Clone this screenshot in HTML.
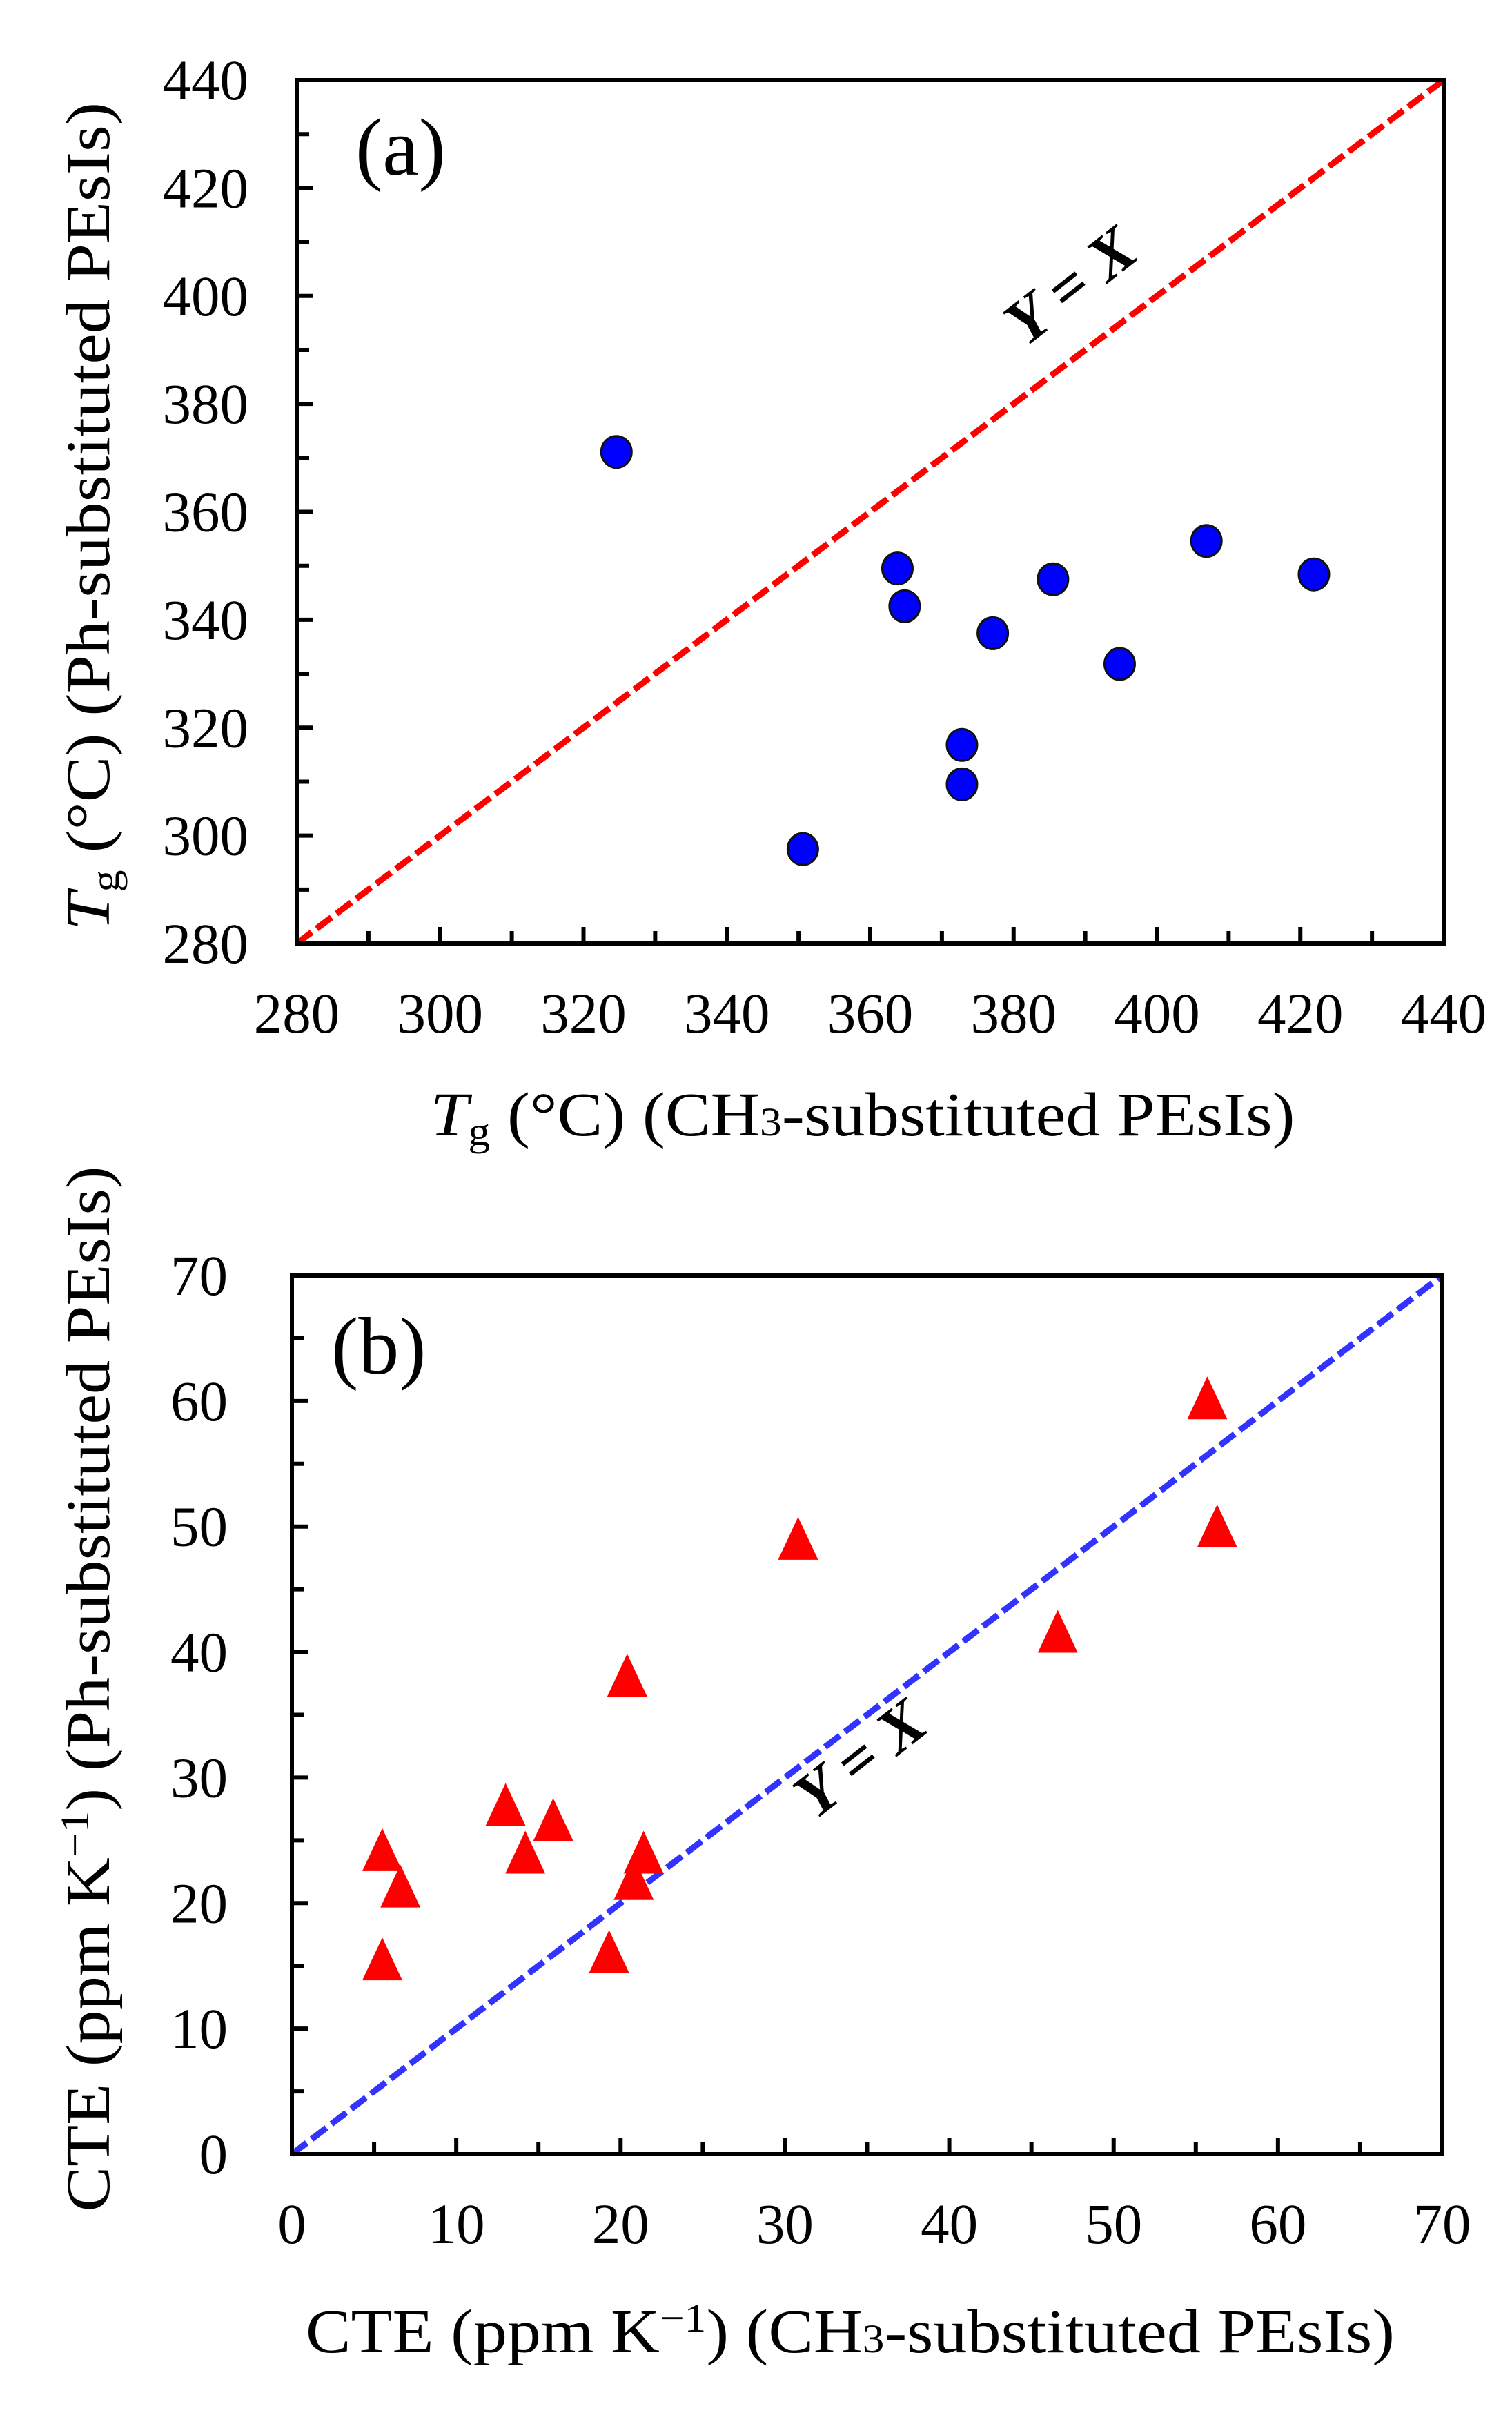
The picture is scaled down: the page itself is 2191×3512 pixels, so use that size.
<!DOCTYPE html>
<html><head><meta charset="utf-8"><style>
html,body{margin:0;padding:0;background:#fff;}
svg{display:block;}
text{font-family:"Liberation Serif",serif;fill:#000;}
</style></head><body>
<svg id="fig" width="2191" height="3512" viewBox="0 0 2191 3512" xmlns="http://www.w3.org/2000/svg">
<rect width="2191" height="3512" fill="#fff"/>
<g id="pa"></g>
<g id="pb"></g>
<text x="515" y="253" font-size="118">(a)</text>
<text x="480" y="1990" font-size="118">(b)</text>
<text transform="translate(1570,438) rotate(-38)" font-size="92" font-weight="bold" font-style="italic" text-anchor="middle">Y = X</text>
<text transform="translate(1265,2572) rotate(-38)" font-size="92" font-weight="bold" font-style="italic" text-anchor="middle">Y = X</text>
<text x="1250" y="1645" font-size="90" text-anchor="middle" textLength="1253" lengthAdjust="spacingAndGlyphs"><tspan font-style="italic">T</tspan><tspan font-size="58" dy="14">g</tspan><tspan dy="-14"> (°C) (CH</tspan><tspan font-size="58">3</tspan><tspan>-substituted PEsIs)</tspan></text>
<text transform="translate(158,748) rotate(-90)" font-size="90" text-anchor="middle" textLength="1200" lengthAdjust="spacingAndGlyphs"><tspan font-style="italic">T</tspan><tspan font-size="58" dy="14">g</tspan><tspan dy="-14"> (°C) (Ph-substituted PEsIs)</tspan></text>
<text x="1232" y="3408" font-size="90" text-anchor="middle" textLength="1578" lengthAdjust="spacingAndGlyphs">CTE (ppm K<tspan font-size="58" dy="-30">−1</tspan><tspan dy="30">) (CH</tspan><tspan font-size="58">3</tspan><tspan>-substituted PEsIs)</tspan></text>
<text transform="translate(158,2447) rotate(-90)" font-size="90" text-anchor="middle" textLength="1515" lengthAdjust="spacingAndGlyphs">CTE (ppm K<tspan font-size="58" dy="-30">−1</tspan><tspan dy="30">) (Ph-substituted PEsIs)</tspan></text>
</svg>
<script>
const aX = [324.6, 350.6, 363.8, 364.8, 372.8, 372.8, 377.1, 385.5, 394.8, 406.9, 421.9];
const aY = [371.1, 297.5, 349.5, 342.5, 316.8, 309.5, 337.5, 347.5, 331.8, 354.6, 348.4];
const aTicks = [280, 300, 320, 340, 360, 380, 400, 420, 440];
const bX = [5.5, 6.6, 5.5, 13.0, 14.2, 15.9, 19.3, 20.4, 20.8, 21.4, 30.8, 46.6, 55.7, 56.3];
const bY = [24.2, 21.3, 15.5, 27.8, 24.0, 26.6, 16.1, 38.1, 21.9, 24.0, 49.0, 41.6, 60.2, 50.0];
const bTicks = [0, 10, 20, 30, 40, 50, 60, 70];

const NS = "http://www.w3.org/2000/svg";
function mk(parent, tag, attrs){ const e=document.createElementNS(NS,tag); for(const k in attrs) e.setAttribute(k,attrs[k]); parent.appendChild(e); return e; }

function panel(g, cfg){
  const {L,R,T,B,min,max,ticks,minorStep,name,lineColor} = cfg;
  const sx = v => L + (v-min)/(max-min)*(R-L);
  const sy = v => B - (v-min)/(max-min)*(B-T);
  // identity line
  const ln = mk(g,'line',{x1:sx(min),y1:sy(min),x2:sx(max),y2:sy(max),stroke:lineColor,'stroke-width':9,'stroke-dasharray':'27 9'});
  
  
  // ticks
  for(let v=min; v<=max+1e-9; v+=minorStep){
    const major = ticks.some(t=>Math.abs(t-v)<1e-6);
    const len = major?24:18;
    if(v>min && v<max){
      const tx = mk(g,'line',{x1:sx(v),y1:B,x2:sx(v),y2:B-len,stroke:'#000','stroke-width':6});
      
      
      const ty = mk(g,'line',{x1:L,y1:sy(v),x2:L+len,y2:sy(v),stroke:'#000','stroke-width':6});
      
      
    }
  }
  ticks.forEach(t=>{
    const xl = mk(g,'text',{x:sx(t),y:cfg.xLabelY,'font-size':83,'text-anchor':'middle'});
    xl.textContent = t;
    
    
    const yl = mk(g,'text',{x:cfg.yLabelX,y:sy(t)+28,'font-size':83,'text-anchor':'end'});
    yl.textContent = t;
    
    
  });
  const fr = mk(g,'rect',{x:L,y:T,width:R-L,height:B-T,fill:'none',stroke:'#000','stroke-width':6});
  
  
  return {sx,sy};
}

const A = panel(document.getElementById('pa'),{L:430,R:2092,T:116,B:1367,min:280,max:440,ticks:aTicks,minorStep:10,name:'panel-a',lineColor:'#ff0000',xLabelY:1496,yLabelX:360});
const ga = document.getElementById('pa');
aX.forEach((x,i)=>{
  const c = mk(ga,'ellipse',{cx:A.sx(x),cy:A.sy(aY[i]),rx:22,ry:23,fill:'#0000ff',stroke:'#111','stroke-width':3});
  
  
});

const Bp = panel(document.getElementById('pb'),{L:423,R:2090,T:1848,B:3121,min:0,max:70,ticks:bTicks,minorStep:5,name:'panel-b',lineColor:'#3333ff',xLabelY:3250,yLabelX:330});
const gb = document.getElementById('pb');
bX.forEach((x,i)=>{
  const cx = Bp.sx(x), cy = Bp.sy(bY[i]);
  const p = mk(gb,'polygon',{points:`${cx},${cy-32} ${cx+29},${cy+30} ${cx-29},${cy+30}`,fill:'#ff0000'});
  
  
});
</script>
</body></html>
